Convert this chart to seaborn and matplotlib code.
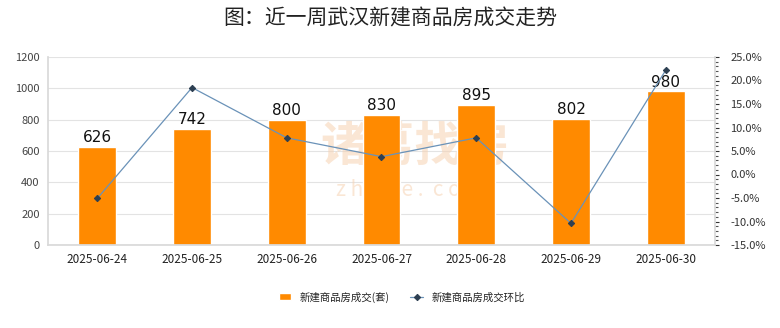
import matplotlib
matplotlib.use("Agg")
import matplotlib.pyplot as plt
from matplotlib.ticker import MultipleLocator, FuncFormatter
import seaborn as sns
import pandas as pd

dates = ["2025-06-24", "2025-06-25", "2025-06-26", "2025-06-27",
         "2025-06-28", "2025-06-29", "2025-06-30"]
deals = [626, 742, 800, 830, 895, 802, 980]
mom_pct = [-5.1, 18.5, 7.8, 3.8, 7.8, -10.4, 22.2]

bar_name = "新建商品房成交(套)"
line_name = "新建商品房成交环比"

df = pd.DataFrame({"date": dates, "deals": deals, "mom": mom_pct})

sns.set_theme(style="white")
plt.rcParams["font.family"] = ["Noto Sans CJK SC", "DejaVu Sans"]

fig = plt.figure(figsize=(7.8, 3.28), dpi=100)
ax = fig.add_axes([48 / 780, 1 - 245 / 328, (715 - 48) / 780, (245 - 57) / 328])

sns.barplot(data=df, x="date", y="deals", color="#ff8a00", saturation=1,
            width=0.4, ax=ax, label=bar_name, zorder=2)
if ax.get_legend() is not None:
    ax.get_legend().remove()
ax.set_ylim(0, 1200)
ax.yaxis.set_major_locator(MultipleLocator(200))
ax.grid(axis="y", color="#e3e3e3", linewidth=0.8, zorder=0)
ax.set_axisbelow(True)
ax.set_xlabel("")
ax.set_ylabel("")
ax.tick_params(axis="y", labelsize=8, colors="#444444", length=0, pad=6)
ax.tick_params(axis="x", labelsize=8.5, colors="#222222", length=0, pad=6)
for s in ["top", "right"]:
    ax.spines[s].set_visible(False)
ax.spines["left"].set_color("#d9d9d9")
ax.spines["bottom"].set_color("#d9d9d9")

for i, v in enumerate(deals):
    ax.text(i, v + 12, f"{v}", ha="center", va="bottom", fontsize=11,
            color="#111111", family="DejaVu Sans", zorder=5)

# faint watermark behind the bars
ax.text(3.35, 630, "诸葛找房", ha="center", va="center", fontsize=34,
        color="#f6d2b2", alpha=0.55, zorder=1, fontweight="bold")
ax.text(3.3, 350, "z h u g e .  c o m", ha="center", va="center", fontsize=15,
        color="#f6d2b2", alpha=0.55, zorder=1)

ax2 = ax.twinx()
sns.lineplot(data=df, x="date", y="mom", ax=ax2, color="#6a92b8",
             linewidth=0.9, marker="D", markersize=3.2,
             markerfacecolor="#2d3f52", markeredgecolor="#2d3f52",
             label=line_name, legend=False, zorder=3)
ax2.set_ylim(-15, 25)
ax2.yaxis.set_major_locator(MultipleLocator(5))
ax2.yaxis.set_minor_locator(MultipleLocator(1))
ax2.yaxis.set_major_formatter(FuncFormatter(lambda v, p: f"{v:.1f}%"))
ax2.tick_params(axis="y", which="major", labelsize=8, colors="#333333",
                length=3, width=0.8, pad=8)
ax2.tick_params(axis="y", which="minor", length=2, width=0.8, colors="#555555")
ax2.set_ylabel("")
ax2.set_xlabel("")
ax2.grid(False)
for s in ["top", "left", "bottom"]:
    ax2.spines[s].set_visible(False)
ax2.spines["right"].set_color("#d9d9d9")

h1, l1 = ax.get_legend_handles_labels()
h2, l2 = ax2.get_legend_handles_labels()
fig.legend(h1 + h2, l1 + l2, loc="center", bbox_to_anchor=(0.515, 1 - 297 / 328),
           ncol=2, frameon=False, fontsize=7.5, handlelength=1.2,
           handleheight=0.7, columnspacing=2.0, handletextpad=0.8,
           labelcolor="#222222")

fig.suptitle("图：近一周武汉新建商品房成交走势", x=0.5, y=1 - 18 / 328,
             va="center", fontsize=15, color="#222222")

fig.savefig("out.png", dpi=100, facecolor="white")
